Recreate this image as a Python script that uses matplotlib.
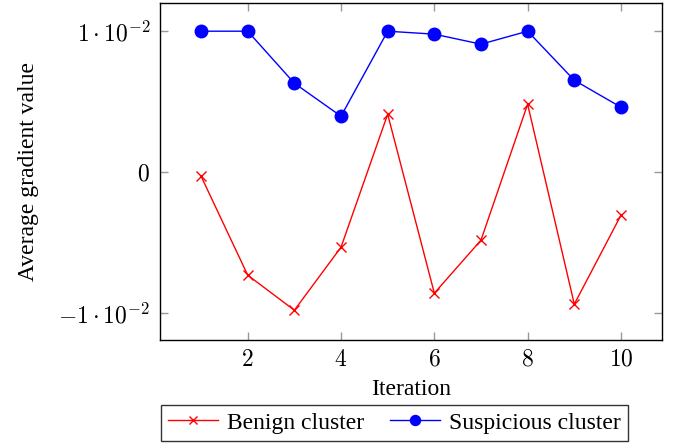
import matplotlib
matplotlib.use("Agg")
import matplotlib.pyplot as plt

# data
iterations = [1, 2, 3, 4, 5, 6, 7, 8, 9, 10]
benign = [-0.00028, -0.0073, -0.00979, -0.00532, 0.00411, -0.00858, -0.00482, 0.00482, -0.00936, -0.00305]
suspicious = [0.0100, 0.0100, 0.00631, 0.00397, 0.0100, 0.00979, 0.00908, 0.0100, 0.00652, 0.00461]

yticks = [-0.01, 0, 0.01]
ytick_labels = [r'$-1\cdot10^{-2}$', r'$0$', r'$1\cdot10^{-2}$']
xticks = [2, 4, 6, 8, 10]

plt.rcParams['font.family'] = ['Liberation Serif', 'DejaVu Serif']
plt.rcParams['mathtext.fontset'] = 'cm'

fig = plt.figure(figsize=(6.78, 4.47), dpi=100)
ax = fig.add_axes([160/678, 1-340/447, 502/678, 337/447])

ax.plot(iterations, benign, '-', color='red', lw=1, marker='x', ms=7, mew=1,
        label='Benign cluster')
ax.plot(iterations, suspicious, '-', color='blue', lw=1, marker='o', ms=9,
        label='Suspicious cluster')

ax.set_xlim(0.12, 10.88)
ax.set_ylim(-0.0119, 0.0120)
ax.set_xticks(xticks)
ax.set_xticklabels([rf'${t}$' for t in xticks])
ax.set_yticks(yticks)
ax.set_yticklabels(ytick_labels)
ax.tick_params(direction='in', top=True, right=True, length=6, width=1,
               color='#999999', labelsize=17, pad=7)
for s in ax.spines.values():
    s.set_linewidth(1)

ax.set_xlabel('Iteration', fontsize=17, labelpad=6)
ax.set_ylabel('Average gradient value', fontsize=17, labelpad=14)

leg = ax.legend(loc='upper center', bbox_to_anchor=(0.582, 0.094),
                bbox_transform=fig.transFigure, ncol=2, fontsize=17, frameon=True,
                fancybox=False, edgecolor='black', borderpad=0.3, borderaxespad=0,
                handlelength=2.1, columnspacing=1.1, handletextpad=0.4, markerscale=0.8)
leg.get_frame().set_linewidth(1)

fig.savefig('out.png', dpi=100)
